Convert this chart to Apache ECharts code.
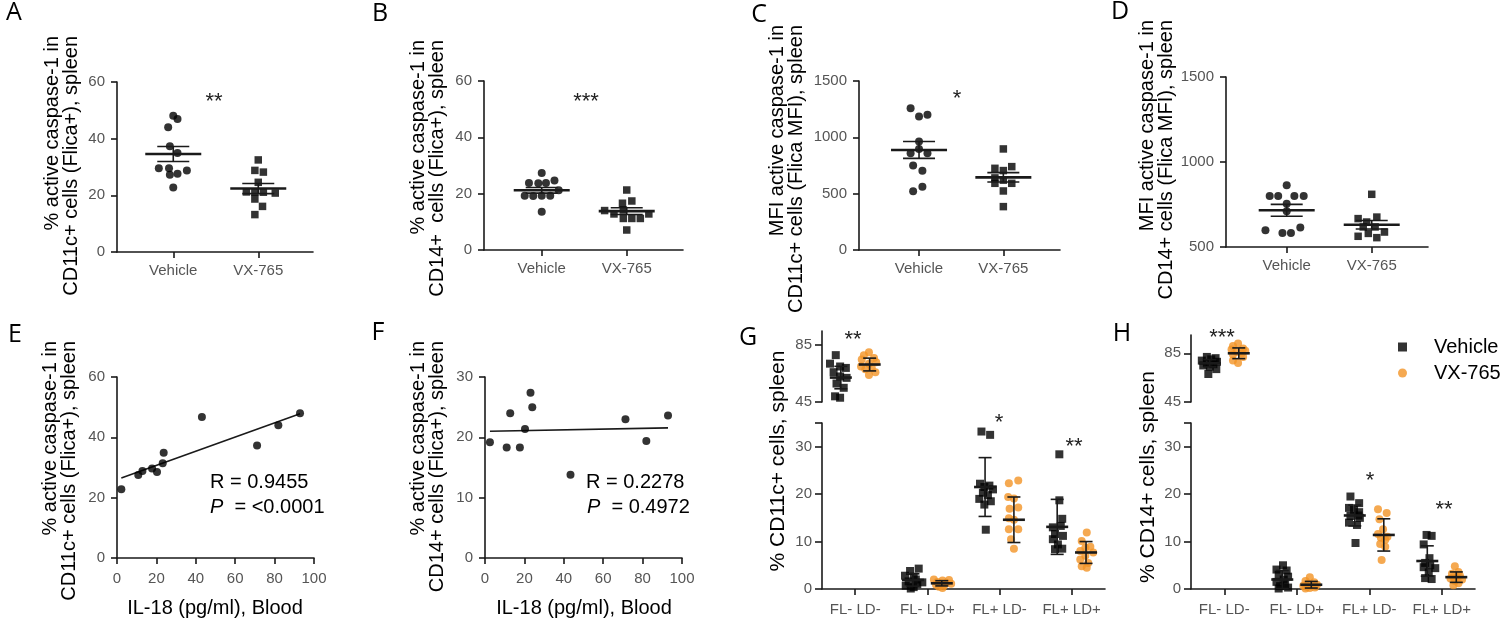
<!DOCTYPE html>
<html><head><meta charset="utf-8">
<script src="https://cdn.jsdelivr.net/npm/echarts@6/dist/echarts.min.js"></script>
<style>html,body{margin:0;padding:0;background:#fff}#c{width:1500px;height:622px}</style>
</head><body><div id="c"></div>
<script>
// ---------- data ----------
const catsAD = ['Vehicle', 'VX-765'];
const catsGH = ['FL- LD-', 'FL- LD+', 'FL+ LD-', 'FL+ LD+'];

// A: % active caspase-1 in CD11c+ (Flica+)
const aVehicle = [48.1, 46.9, 44.0, 37.3, 34.9, 29.6, 29.6, 28.8, 27.3, 27.6, 22.8];
const aVehicleJit = [0, 0.05, -0.06, -0.04, 0.05, -0.17, -0.05, 0.16, -0.04, 0.05, 0];
const aVX = [32.5, 28.8, 28.2, 24.6, 21.2, 21.1, 21.1, 20.8, 18.7, 16.1, 13.2];
const aVXJit = [0, -0.04, 0.06, 0, -0.14, -0.04, 0.06, 0.2, -0.04, 0.05, -0.04];
const aMean = [34.6, 22.4];
const aSEM = [2.65, 1.8];

// B: % active caspase-1 in CD14+ (Flica+)
const bVehicle = [27.3, 23.8, 23.7, 23.8, 24.7, 21.2, 19.3, 19.2, 19.3, 19.3, 13.6];
const bVehicleJit = [0, -0.15, -0.04, 0.05, 0.15, 0.2, -0.2, -0.1, 0, 0.1, 0];
const bVX = [21.3, 16.6, 17.4, 14.0, 12.8, 11.2, 11.2, 11.2, 12.8, 7.1, 14.2];
const bVXJit = [0, -0.05, 0.06, -0.26, -0.15, -0.04, 0.06, 0.16, 0.26, 0, -0.04];
const bMean = [21.2, 13.8];
const bSEM = [1.0, 1.2];

// C: MFI CD11c+
const cVehicle = [1258, 1184, 1201, 962, 897, 858, 858, 749, 704, 562, 521];
const cVehicleJit = [-0.1, 0, 0.1, 0, 0, -0.1, 0.1, -0.07, 0.04, 0.04, -0.07];
const cVX = [897, 725, 740, 705, 640, 620, 592, 592, 524, 385];
const cVXJit = [0, -0.1, 0.1, 0, -0.1, 0, -0.1, 0.1, 0, 0];
const cMean = [888, 645];
const cSEM = [75, 42];

// D: MFI CD14+
const dVehicle = [863, 800, 800, 800, 800, 755, 710, 598, 582, 582, 614];
const dVehicleJit = [0, -0.2, -0.1, 0.09, 0.2, 0, 0, -0.25, -0.05, 0.05, 0.16];
const dVX = [810, 667, 676, 647, 618, 618, 588, 563, 555, 580];
const dVXJit = [0, -0.16, 0.06, -0.06, -0.1, 0.04, 0.15, -0.16, 0.06, -0.04];
const dMean = [716, 631];
const dSEM = [35, 25];

// E / F: correlation with IL-18
const eIL18 = [2.2, 10.8, 12.9, 17.8, 20.3, 23.2, 23.7, 43.1, 71.1, 81.9, 92.9];
const eCasp = [22.8, 27.5, 28.8, 29.7, 28.5, 31.4, 34.9, 46.7, 37.3, 44.0, 48.0];
const fIL18 = [2.5, 11.0, 12.8, 17.7, 20.3, 23.1, 24.0, 43.4, 71.3, 81.9, 92.9];
const fCasp = [19.2, 18.3, 24.0, 18.3, 21.4, 27.4, 25.0, 13.8, 23.0, 19.4, 23.6];

// G: % CD11c+ cells (per category)
const gVehicle = [
  [78, 72, 70, 69, 66, 63, 62, 58, 55, 49, 48],
  [4.3, 3.8, 2.8, 2.6, 2.0, 1.6, 1.4, 1.0, 0.7, 0.4, 0.1],
  [33.2, 32.5, 22.2, 21.8, 21.5, 21.0, 20.3, 19.8, 19.0, 18.5, 17.8, 12.5],
  [28.4, 18.7, 14.8, 13.3, 13.0, 11.6, 11.2, 10.5, 9.4, 8.5, 8.4]
];
const gVehicleJit = [
  [-0.27, -0.35, -0.21, -0.13, -0.30, -0.21, -0.12, -0.26, -0.16, -0.28, -0.21],
  [-0.12, -0.24, -0.31, -0.19, -0.16, -0.26, -0.07, -0.14, -0.30, -0.19, -0.23],
  [-0.25, -0.13, -0.27, -0.14, -0.21, -0.09, -0.23, -0.16, -0.28, -0.12, -0.21, -0.19],
  [-0.17, -0.17, -0.13, -0.15, -0.26, -0.23, -0.12, -0.26, -0.19, -0.13, -0.23]
];
const gVX = [
  [80, 78, 76, 75, 73, 72, 70, 69, 68, 66, 64],
  [2.0, 1.9, 1.8, 1.5, 1.3, 1.2, 1.1, 0.9, 0.7, 0.5, 0.2],
  [22.9, 22.3, 19.4, 19.1, 17.2, 16.9, 14.9, 14.6, 12.6, 12.6, 10.5, 8.5],
  [11.9, 10.1, 8.9, 8.7, 8.0, 7.7, 7.0, 6.2, 5.5, 4.8, 4.5]
];
const gVXJit = [
  [0.19, 0.12, 0.26, 0.09, 0.29, 0.19, 0.08, 0.23, 0.14, 0.28, 0.19],
  [0.09, 0.30, 0.21, 0.14, 0.26, 0.19, 0.33, 0.12, 0.23, 0.16, 0.21],
  [0.26, 0.13, 0.12, 0.20, 0.26, 0.14, 0.13, 0.20, 0.26, 0.13, 0.16, 0.20],
  [0.21, 0.14, 0.26, 0.19, 0.12, 0.30, 0.19, 0.12, 0.23, 0.14, 0.21]
];
const gVehicleMean = [62.2, 1.9, 21.5, 13.1];
const gVehicleSD = [7.9, 1.3, 6.2, 5.8];
const gVXMean = [71.4, 1.2, 14.6, 7.7];
const gVXSD = [4.5, 0.55, 4.8, 2.3];

// H: % CD14+ cells (per category)
const hVehicle = [
  [82, 81, 80, 79, 78, 77, 76, 75, 74, 72, 68],
  [5.0, 4.1, 3.9, 3.0, 2.6, 2.0, 1.5, 1.0, 0.6, 0.3, 0.1],
  [19.5, 18.1, 17.1, 16.7, 16.2, 15.5, 15.4, 15.0, 14.0, 13.5, 9.7],
  [11.4, 11.2, 9.4, 6.5, 5.5, 5.0, 4.6, 4.4, 3.5, 2.3, 2.1]
];
const hVehicleJit = [
  [-0.24, -0.12, -0.18, -0.31, -0.10, -0.24, -0.15, -0.29, -0.20, -0.11, -0.22],
  [-0.19, -0.28, -0.14, -0.25, -0.12, -0.18, -0.28, -0.16, -0.23, -0.12, -0.25],
  [-0.26, -0.14, -0.28, -0.21, -0.14, -0.15, -0.26, -0.13, -0.28, -0.17, -0.19],
  [-0.21, -0.14, -0.25, -0.17, -0.23, -0.16, -0.25, -0.09, -0.18, -0.23, -0.14]
];
const hVX = [
  [93, 91, 89, 88, 87, 86, 85, 84, 82, 79, 77],
  [2.5, 1.7, 1.4, 1.1, 0.9, 0.7, 0.6, 0.5, 0.3, 0.2, 0.1],
  [16.8, 16.0, 14.7, 12.6, 11.6, 11.0, 10.8, 10.4, 9.5, 8.9, 6.1],
  [4.8, 3.6, 3.2, 2.8, 2.5, 2.4, 2.2, 2.0, 1.7, 1.2, 0.8]
];
const hVXJit = [
  [0.19, 0.12, 0.26, 0.10, 0.29, 0.17, 0.24, 0.12, 0.26, 0.12, 0.19],
  [0.18, 0.12, 0.24, 0.16, 0.28, 0.09, 0.21, 0.14, 0.25, 0.18, 0.12],
  [0.12, 0.24, 0.14, 0.19, 0.12, 0.25, 0.16, 0.22, 0.15, 0.22, 0.17],
  [0.18, 0.23, 0.14, 0.25, 0.16, 0.21, 0.12, 0.28, 0.18, 0.23, 0.16]
];
const hVehicleMean = [76.8, 2.0, 15.5, 5.9];
const hVehicleSD = [3.0, 1.9, 2.2, 3.2];
const hVXMean = [85, 0.9, 11.4, 2.5];
const hVXSD = [4.4, 0.7, 3.4, 1.1];

const statsE = { r: 'R = 0.9455', p: '<0.0001' };
const statsF = { r: 'R = 0.2278', p: '0.4972' };

// ---------- styling ----------
const FONT = 'Arial, "Liberation Sans", sans-serif';
const AX = '#1a1a1a', LBL = '#555', ORANGE = '#F39325';

const grids = [], xAxes = [], yAxes = [], series = [];

function axisBase(o) {
  return Object.assign({
    axisLine: { show: true, onZero: false, lineStyle: { color: AX, width: 1.6 } },
    splitLine: { show: false }
  }, o);
}
function tick(extra) { return Object.assign({ show: true, length: 6, lineStyle: { color: AX, width: 1.6 } }, extra || {}); }
function lbl(extra) { return Object.assign({ color: LBL, fontSize: 15, fontFamily: FONT, formatter: v => String(v) }, extra || {}); }

function meanErr(halfW, capW, meanLW) {
  return function (params, api) {
    const x = api.value(0), m = api.value(1), e = api.value(2);
    const c = api.coord([x, m]), hi = api.coord([x, m + e]), lo = api.coord([x, m - e]);
    const st = { stroke: AX, lineWidth: 1.6 };
    return { type: 'group', children: [
      { type: 'line', shape: { x1: c[0], y1: hi[1], x2: c[0], y2: lo[1] }, style: st },
      { type: 'line', shape: { x1: c[0] - capW, y1: hi[1], x2: c[0] + capW, y2: hi[1] }, style: st },
      { type: 'line', shape: { x1: c[0] - capW, y1: lo[1], x2: c[0] + capW, y2: lo[1] }, style: st },
      { type: 'line', shape: { x1: c[0] - halfW, y1: c[1], x2: c[0] + halfW, y2: c[1] }, style: { stroke: AX, lineWidth: meanLW } }
    ]};
  };
}

function jitterPoints(cat, vals, jit) { return vals.map((v, i) => [cat + jit[i], v]); }

// dot plot panels A-D
function dotPanel(rect, xr, yAx, veh, vehJ, vx, vxJ, mean, err, tag) {
  const gi = grids.length;
  grids.push({ left: rect[0], top: rect[1], width: rect[2], height: rect[3] });
  xAxes.push(axisBase({ type: 'value', gridIndex: gi, min: xr[0], max: xr[1],
    axisTick: tick({ customValues: [0, 1] }),
    axisLabel: lbl({ customValues: [0, 1], margin: 11, formatter: v => catsAD[Math.round(v)] }) }));
  yAxes.push(axisBase(Object.assign({ type: 'value', gridIndex: gi, axisTick: tick(), axisLabel: lbl({ margin: 12 }) }, yAx)));
  series.push({ type: 'scatter', name: tag + ' Vehicle', xAxisIndex: gi, yAxisIndex: gi, symbol: 'circle', symbolSize: 8,
    itemStyle: { color: '#000' }, data: jitterPoints(0, veh, vehJ), z: 2, silent: true });
  series.push({ type: 'scatter', name: tag + ' VX-765', xAxisIndex: gi, yAxisIndex: gi, symbol: 'rect', symbolSize: 7.5,
    itemStyle: { color: '#000' }, data: jitterPoints(1, vx, vxJ), z: 2, silent: true });
  series.push({ type: 'custom', xAxisIndex: gi, yAxisIndex: gi, renderItem: meanErr(28, 16, 2.6),
    data: catsAD.map((c, i) => [i, mean[i], err[i]]), encode: { x: 0, y: 1 }, z: 3, silent: true });
}

dotPanel([117, 82, 196, 170], [-0.662, 1.644], { min: 0, max: 60, interval: 20 }, aVehicle, aVehicleJit, aVX, aVXJit, aMean, aSEM, 'A');
dotPanel([484, 81, 199, 169], [-0.679, 1.662], { min: 0, max: 60, interval: 20 }, bVehicle, bVehicleJit, bVX, bVXJit, bMean, bSEM, 'B');
dotPanel([859, 81, 201, 169], [-0.712, 1.672], { min: 0, max: 1500, interval: 500 }, cVehicle, cVehicleJit, cVX, cVXJit, cMean, cSEM, 'C');
dotPanel([1226, 77, 202, 170], [-0.714, 1.662], { min: 500, max: 1500, interval: 500 }, dVehicle, dVehicleJit, dVX, dVXJit, dMean, dSEM, 'D');

// correlation panels E-F
function linFit(xs, ys) {
  const n = xs.length, mx = xs.reduce((a, b) => a + b, 0) / n, my = ys.reduce((a, b) => a + b, 0) / n;
  let sxy = 0, sxx = 0;
  for (let i = 0; i < n; i++) { sxy += (xs[i] - mx) * (ys[i] - my); sxx += (xs[i] - mx) ** 2; }
  const b = sxy / sxx; return [my - b * mx, b];
}
function corrPanel(rect, ymax, yint, xs, ys, tag) {
  const gi = grids.length;
  grids.push({ left: rect[0], top: rect[1], width: rect[2], height: rect[3] });
  xAxes.push(axisBase({ type: 'value', gridIndex: gi, min: 0, max: 100, interval: 20, axisTick: tick(), axisLabel: lbl({ margin: 13 }) }));
  yAxes.push(axisBase({ type: 'value', gridIndex: gi, min: 0, max: ymax, interval: yint, axisTick: tick(), axisLabel: lbl({ margin: 12 }) }));
  series.push({ type: 'scatter', name: tag + ' pts', xAxisIndex: gi, yAxisIndex: gi, symbol: 'circle', symbolSize: 8,
    itemStyle: { color: '#000' }, data: xs.map((x, i) => [x, ys[i]]), z: 3, silent: true });
  const [a, b] = linFit(xs, ys);
  const x0 = Math.min(...xs), x1 = Math.max(...xs);
  series.push({ type: 'line', name: tag + ' fit', xAxisIndex: gi, yAxisIndex: gi, showSymbol: false, symbol: 'none',
    lineStyle: { color: AX, width: 1.6 }, data: [[x0, a + b * x0], [x1, a + b * x1]], z: 2, silent: true });
}
corrPanel([117, 377, 197, 181], 60, 20, eIL18, eCasp, 'E');
corrPanel([485, 377, 197, 181], 30, 10, fIL18, fCasp, 'F');

// broken-axis panels G-H
function brokenPanel(rectU, rectL, xr, upper, veh, vehJ, vx, vxJ, vMean, vSD, xMean, xSD) {
  const gu = grids.length;
  grids.push({ left: rectU[0], top: rectU[1], width: rectU[2], height: rectU[3] });
  xAxes.push({ type: 'value', gridIndex: gu, min: xr[0], max: xr[1], show: false });
  yAxes.push(axisBase({ type: 'value', gridIndex: gu, min: upper[0], max: upper[1],
    axisTick: tick({ customValues: [45, 85], length: 7 }), axisLabel: lbl({ customValues: [45, 85], margin: 10 }) }));
  const gl = grids.length;
  grids.push({ left: rectL[0], top: rectL[1], width: rectL[2], height: rectL[3] });
  xAxes.push(axisBase({ type: 'value', gridIndex: gl, min: xr[0], max: xr[1],
    axisTick: tick({ customValues: [0, 1, 2, 3] }),
    axisLabel: lbl({ customValues: [0, 1, 2, 3], margin: 13, formatter: v => catsGH[Math.round(v)] }) }));
  yAxes.push(axisBase({ type: 'value', gridIndex: gl, min: 0, max: 35,
    axisTick: tick({ customValues: [0, 10, 20, 30, 35], length: 7 }), axisLabel: lbl({ customValues: [0, 10, 20, 30], margin: 10 }) }));
  [[gu, [0]], [gl, [1, 2, 3]]].forEach(([gi, cats]) => {
    series.push({ type: 'scatter', name: 'Vehicle', xAxisIndex: gi, yAxisIndex: gi, symbol: 'rect', symbolSize: 8,
      itemStyle: { color: '#000' }, data: cats.flatMap(c => jitterPoints(c, veh[c], vehJ[c])), z: 2, silent: true });
    series.push({ type: 'scatter', name: 'VX-765', xAxisIndex: gi, yAxisIndex: gi, symbol: 'circle', symbolSize: 8,
      itemStyle: { color: ORANGE }, data: cats.flatMap(c => jitterPoints(c, vx[c], vxJ[c])), z: 2, silent: true });
    series.push({ type: 'custom', xAxisIndex: gi, yAxisIndex: gi, renderItem: meanErr(11, 6.5, 2.6), encode: { x: 0, y: 1 }, z: 3, silent: true,
      data: cats.flatMap(c => [[c - 0.2, vMean[c], vSD[c]], [c + 0.2, xMean[c], xSD[c]]]) });
  });
}
brokenPanel([822, 331, 283, 71], [822, 423, 283, 166], [-0.461, 3.463], [45, 95],
  gVehicle, gVehicleJit, gVX, gVXJit, gVehicleMean, gVehicleSD, gVXMean, gVXSD);
brokenPanel([1191, 335, 284, 67], [1191, 423, 284, 166], [-0.459, 3.458], [45, 100],
  hVehicle, hVehicleJit, hVX, hVXJit, hVehicleMean, hVehicleSD, hVXMean, hVXSD);

// ---------- text ----------
const graphic = [];
function letter(t, x, y) { graphic.push({ type: 'text', x, y, style: { text: t, fontSize: 25, fontFamily: "'Open Sans', sans-serif", fill: '#000', align: 'center', verticalAlign: 'middle' } }); }
// two-line rotated titles: both lines end at the same top point
function ytitle2(t, x, yTop) { graphic.push({ type: 'text', x, y: yTop, rotation: Math.PI / 2, style: { text: t, fontSize: 20, lineHeight: 19, fontFamily: FONT, fill: '#000', align: 'right', verticalAlign: 'middle' } }); }
function ytitle(t, x, y, fs) { graphic.push({ type: 'text', x, y, rotation: Math.PI / 2, style: { text: t, fontSize: fs, fontFamily: FONT, fill: '#000', align: 'center', verticalAlign: 'middle' } }); }
function star(t, x, y) { graphic.push({ type: 'text', x, y: y + 5, style: { text: t, fontSize: 22, fontFamily: FONT, fill: '#222', align: 'center', verticalAlign: 'middle' } }); }
function plain(t, x, y, fs, align) { graphic.push({ type: 'text', x, y, style: { text: t, fontSize: fs, fontFamily: FONT, fill: '#000', align: align || 'center', verticalAlign: 'middle' } }); }
function pline(val, x, y) {
  graphic.push({ type: 'text', x, y, style: { text: '{i|P}  = ' + val, fontSize: 20, fontFamily: FONT, fill: '#000', align: 'left', verticalAlign: 'middle',
    rich: { i: { fontStyle: 'italic', fontSize: 20, fontFamily: FONT, fill: '#000' } } } });
}

letter('A', 14, 13); letter('B', 380, 14); letter('C', 759, 15); letter('D', 1120, 12);
letter('E', 15, 335); letter('F', 378, 333); letter('G', 748, 338); letter('H', 1122, 334);

ytitle2('% active caspase-1 in\nCD11c+ cells (Flica+), spleen', 61.5, 36);
ytitle2('% active caspase-1 in\nCD14+  cells (Flica+), spleen', 428, 40);
ytitle2('MFI active caspase-1 in\nCD11c+ cells (Flica MFI), spleen', 787, 25);
ytitle2('MFI active caspase-1 in\nCD14+ cells (Flica MFI), spleen', 1157, 20);
ytitle2('% active caspase-1 in\nCD11c+ cells (Flica+), spleen', 60, 341);
ytitle2('% active caspase-1 in\nCD14+ cells (Flica+), spleen', 428, 341);
ytitle('% CD11c+ cells, spleen', 778, 461, 21);
ytitle('% CD14+ cells, spleen', 1148, 477, 21);

plain('IL-18 (pg/ml), Blood', 215, 608, 20);
plain('IL-18 (pg/ml), Blood', 584, 608, 20);
plain(statsE.r, 210, 482, 20, 'left'); pline(statsE.p, 210, 507);
plain(statsF.r, 586, 482, 20, 'left'); pline(statsF.p, 587, 507);

star('**', 214, 97); star('***', 586, 97); star('*', 957, 94);
star('**', 853, 335); star('*', 999, 418); star('**', 1074, 442);
star('***', 1222, 333); star('*', 1370, 476); star('**', 1444, 505);

const chart = echarts.init(document.getElementById('c'), null, { renderer: 'canvas' });
chart.setOption({
  animation: false,
  backgroundColor: '#fff',
  grid: grids, xAxis: xAxes, yAxis: yAxes, series,
  legend: {
    data: [{ name: 'Vehicle', icon: 'rect' }, { name: 'VX-765', icon: 'circle' }],
    orient: 'vertical', left: 1393, top: 332, itemWidth: 9, itemHeight: 9, itemGap: 6, selectedMode: false,
    textStyle: { fontSize: 20, color: '#000', fontFamily: FONT, padding: [0, 0, 0, 22] }
  },
  graphic
});
</script></body></html>
